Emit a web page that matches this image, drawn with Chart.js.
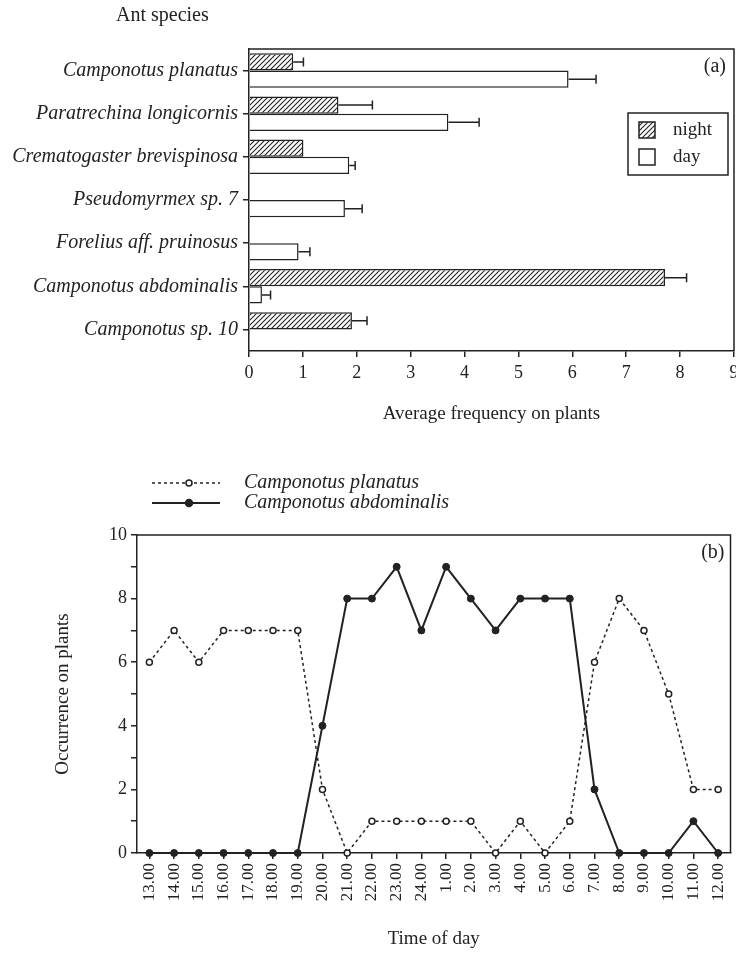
<!DOCTYPE html>
<html>
<head>
<meta charset="utf-8">
<script src="https://cdn.jsdelivr.net/npm/chart.js@4.4.0/dist/chart.umd.min.js"></script>
<style>
body{margin:0;background:#fff;}
#wrapA{position:absolute;left:0;top:0;width:736px;height:440px;}
#wrapB{position:absolute;left:0;top:460px;width:736px;height:499px;}
</style>
</head>
<body>
<div id="wrapA"><canvas id="chartA" width="736" height="440"></canvas></div>
<div id="wrapB"><canvas id="chartB" width="736" height="499"></canvas></div>
<script>
// (a) average frequency of each ant species, night vs day
var species = ['Camponotus planatus', 'Paratrechina longicornis', 'Crematogaster brevispinosa',
    'Pseudomyrmex sp. 7', 'Forelius aff. pruinosus', 'Camponotus abdominalis', 'Camponotus sp. 10'];
var nightValues = [0.82, 1.66, 1.01, null, null, 7.72, 1.91];
var nightErrors = [0.19, 0.63, 0, null, null, 0.40, 0.28];
var dayValues = [5.93, 3.70, 1.86, 1.78, 0.92, 0.24, null];
var dayErrors = [0.51, 0.57, 0.11, 0.32, 0.21, 0.16, null];
var freqTicks = [0, 1, 2, 3, 4, 5, 6, 7, 8, 9];

// (b) occurrence over the day
var hours = ['13.00', '14.00', '15.00', '16.00', '17.00', '18.00', '19.00', '20.00', '21.00', '22.00',
    '23.00', '24.00', '1.00', '2.00', '3.00', '4.00', '5.00', '6.00', '7.00', '8.00', '9.00', '10.00',
    '11.00', '12.00'];
var planatus = [6, 7, 6, 7, 7, 7, 7, 2, 0, 1, 1, 1, 1, 1, 0, 1, 0, 1, 6, 8, 7, 5, 2, 2];
var abdominalis = [0, 0, 0, 0, 0, 0, 0, 4, 8, 8, 9, 7, 9, 8, 7, 8, 8, 8, 2, 0, 0, 0, 1, 0];

var ink = '#222';
var serif = 'Liberation Serif';

function makeHatch(ctx) {
    var c = document.createElement('canvas');
    c.width = 5; c.height = 5;
    var g = c.getContext('2d');
    g.fillStyle = '#fff';
    g.fillRect(0, 0, 5, 5);
    g.strokeStyle = ink;
    g.lineWidth = 1.1;
    g.beginPath();
    g.moveTo(0, 5); g.lineTo(5, 0);
    g.moveTo(-1, 1); g.lineTo(1, -1);
    g.moveTo(4, 6); g.lineTo(6, 4);
    g.stroke();
    return ctx.createPattern(c, 'repeat');
}

// no extra room for the last tick label, the plot runs to the edge
function noSidePad(s) {
    s.paddingLeft = 0;
    s.paddingRight = 0;
}

// box round the plot area (top and right sides)
var frame = {
    id: 'frame',
    afterDraw: function(chart) {
        var a = chart.chartArea, ctx = chart.ctx;
        ctx.save();
        ctx.strokeStyle = ink;
        ctx.lineWidth = 1.5;
        ctx.beginPath();
        ctx.moveTo(a.left, a.top);
        ctx.lineTo(a.right, a.top);
        ctx.lineTo(a.right, a.bottom);
        ctx.stroke();
        ctx.restore();
    }
};

var errorBars = {
    id: 'errorBars',
    afterDatasetsDraw: function(chart) {
        var ctx = chart.ctx, xs = chart.scales.x;
        chart.data.datasets.forEach(function(ds, i) {
            var meta = chart.getDatasetMeta(i);
            meta.data.forEach(function(bar, j) {
                var v = ds.data[j], e = ds.errors[j];
                if (v == null || !e) return;
                var x0 = xs.getPixelForValue(v);
                var x1 = xs.getPixelForValue(v + e);
                ctx.save();
                ctx.strokeStyle = ink;
                ctx.lineWidth = 1.5;
                ctx.beginPath();
                ctx.moveTo(x0, bar.y); ctx.lineTo(x1, bar.y);
                ctx.moveTo(x1, bar.y - 4.5); ctx.lineTo(x1, bar.y + 4.5);
                ctx.stroke();
                ctx.restore();
            });
        });
    }
};

var notesA = {
    id: 'notesA',
    afterDraw: function(chart) {
        var ctx = chart.ctx, a = chart.chartArea;
        ctx.save();
        ctx.fillStyle = ink;
        ctx.font = '20px "' + serif + '"';
        ctx.textBaseline = 'middle';
        ctx.textAlign = 'left';
        ctx.fillText('Ant species', 116, 16);
        ctx.textAlign = 'right';
        ctx.fillText('(a)', a.right - 8, a.top + 18);
        // legend box
        var bx = 628, by = 113;
        ctx.strokeStyle = ink;
        ctx.lineWidth = 1.5;
        ctx.fillStyle = '#fff';
        ctx.fillRect(bx, by, 100, 62);
        ctx.strokeRect(bx, by, 100, 62);
        chart.data.datasets.forEach(function(ds, i) {
            var y = by + 9 + i * 27;
            ctx.fillStyle = ds.backgroundColor;
            ctx.fillRect(bx + 11, y, 16, 16);
            ctx.strokeRect(bx + 11, y, 16, 16);
            ctx.fillStyle = ink;
            ctx.textAlign = 'left';
            ctx.font = '19px "' + serif + '"';
            ctx.fillText(ds.label, bx + 45, y + 8);
        });
        ctx.restore();
    }
};

var ctxA = document.getElementById('chartA').getContext('2d');
var hatch = makeHatch(ctxA);

new Chart(ctxA, {
    type: 'bar',
    data: {
        labels: species,
        datasets: [{
            label: 'night',
            data: nightValues,
            errors: nightErrors,
            backgroundColor: hatch,
            borderColor: ink,
            borderWidth: 1.5,
            categoryPercentage: 0.8,
            barPercentage: 1.0
        }, {
            label: 'day',
            data: dayValues,
            errors: dayErrors,
            backgroundColor: '#fff',
            borderColor: ink,
            borderWidth: 1.5,
            categoryPercentage: 0.8,
            barPercentage: 1.0
        }]
    },
    options: {
        indexAxis: 'y',
        responsive: false,
        animation: false,
        layout: {padding: {left: 0, right: 2, top: 49, bottom: 15}},
        plugins: {legend: {display: false}, tooltip: {enabled: false}},
        scales: {
            x: {
                min: freqTicks[0],
                max: freqTicks[freqTicks.length - 1],
                ticks: {stepSize: 1, color: ink, font: {family: serif, size: 18}, padding: 5},
                grid: {drawOnChartArea: false, drawTicks: true, tickLength: 6, color: ink, lineWidth: 1.5},
                border: {color: ink, width: 1.5},
                title: {display: true, text: 'Average frequency on plants', color: ink,
                    font: {family: serif, size: 19}, padding: 0},
                afterFit: function(s) { s.height = 74; noSidePad(s); }
            },
            y: {
                ticks: {color: ink, font: {family: serif, size: 20, style: 'italic'}, padding: 5},
                grid: {drawOnChartArea: false, drawTicks: true, tickLength: 6, color: ink, lineWidth: 1.5,
                    offset: false},
                border: {color: ink, width: 1.5},
                afterFit: function(s) { s.width = 249; }
            }
        }
    },
    plugins: [errorBars, frame, notesA]
});

var notesB = {
    id: 'notesB',
    afterDraw: function(chart) {
        var ctx = chart.ctx, a = chart.chartArea;
        ctx.save();
        ctx.fillStyle = ink;
        ctx.font = '20px "' + serif + '"';
        ctx.textBaseline = 'middle';
        ctx.textAlign = 'right';
        ctx.fillText('(b)', a.right - 6, a.top + 18);
        chart.data.datasets.forEach(function(ds, i) {
            var y = 23 + i * 20;
            ctx.strokeStyle = ink;
            ctx.lineWidth = ds.borderWidth;
            ctx.setLineDash(ds.borderDash || []);
            ctx.beginPath();
            ctx.moveTo(152, y); ctx.lineTo(220, y);
            ctx.stroke();
            ctx.setLineDash([]);
            ctx.beginPath();
            ctx.arc(189, y, ds.pointRadius, 0, Math.PI * 2);
            ctx.fillStyle = ds.pointBackgroundColor;
            ctx.fill();
            ctx.lineWidth = 1.5;
            ctx.stroke();
            ctx.fillStyle = ink;
            ctx.textAlign = 'left';
            ctx.font = 'italic 20px "' + serif + '"';
            ctx.fillText(ds.label, 244, y);
        });
        ctx.restore();
    }
};

new Chart(document.getElementById('chartB'), {
    type: 'line',
    data: {
        labels: hours,
        datasets: [{
            label: 'Camponotus planatus',
            data: planatus,
            borderColor: ink,
            borderWidth: 1.5,
            borderDash: [3, 3],
            pointRadius: 3,
            pointBackgroundColor: '#fff',
            pointBorderColor: ink,
            pointBorderWidth: 1.5,
            tension: 0,
            clip: false
        }, {
            label: 'Camponotus abdominalis',
            data: abdominalis,
            borderColor: ink,
            borderWidth: 2,
            pointRadius: 3.5,
            pointBackgroundColor: ink,
            pointBorderColor: ink,
            pointBorderWidth: 1,
            tension: 0,
            clip: false
        }]
    },
    options: {
        responsive: false,
        animation: false,
        layout: {padding: {left: 52, right: 3, top: 75, bottom: 9}},
        plugins: {legend: {display: false}, tooltip: {enabled: false}},
        scales: {
            x: {
                offset: true,
                ticks: {autoSkip: false, minRotation: 90, maxRotation: 90, color: ink,
                    font: {family: serif, size: 17}, padding: 4},
                grid: {drawOnChartArea: false, drawTicks: true, tickLength: 6, color: ink, lineWidth: 1.5,
                    offset: false},
                border: {color: ink, width: 1.5},
                title: {display: true, text: 'Time of day', color: ink, font: {family: serif, size: 19}, padding: 0},
                afterFit: function(s) { s.height = 97; noSidePad(s); }
            },
            y: {
                min: 0,
                max: 10,
                ticks: {stepSize: 1, color: ink, font: {family: serif, size: 18}, padding: 4,
                    callback: function(v) { return v % 2 === 0 ? v : ''; }},
                grid: {drawOnChartArea: false, drawTicks: true, tickLength: 6, color: ink, lineWidth: 1.5},
                border: {color: ink, width: 1.5},
                title: {display: true, text: 'Occurrence on plants', color: ink, font: {family: serif, size: 19}, padding: 0},
                afterFit: function(s) { s.width = 85; }
            }
        }
    },
    plugins: [frame, notesB]
});
</script>
</body>
</html>
